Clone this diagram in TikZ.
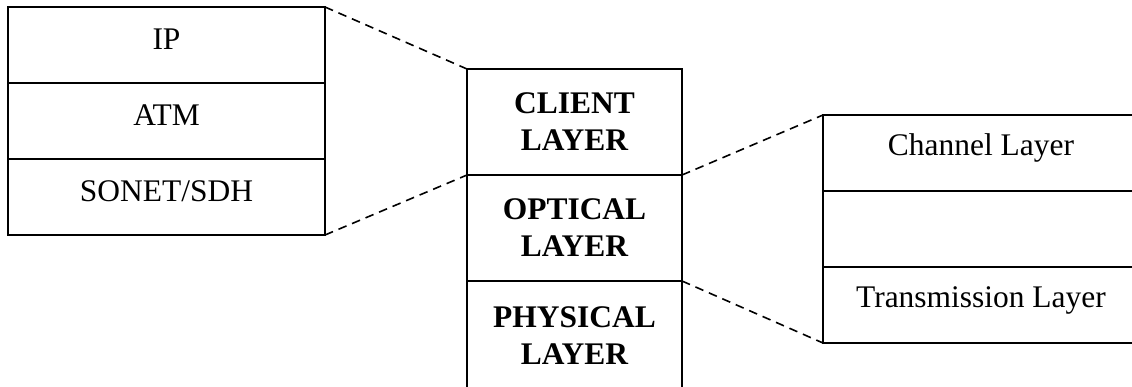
\documentclass[tikz,border=0pt]{standalone}
\usepackage{fontspec}
\setmainfont{Liberation Serif}
\usetikzlibrary{positioning}

\begin{document}
\begin{tikzpicture}[
  every node/.style={font=\fontsize{23.6pt}{27.75pt}\selectfont},
  stackrow/.style={draw,line width=1.5pt,inner sep=0pt,outer sep=0pt,
    minimum width=237.75pt,minimum height=57pt,
    text height=16pt,text depth=10pt},
  opticrow/.style={draw,line width=1.5pt,inner sep=0pt,outer sep=0pt,
    minimum width=161.25pt,minimum height=79.5pt,
    align=center,font=\fontsize{23.6pt}{27.75pt}\selectfont\bfseries},
  linkline/.style={dashed,dash pattern=on 6.5pt off 4.5pt,line width=1.2pt}
  ]

  \clip (0, 0) rectangle (849pt, -289.5pt);

  \node[stackrow] (ip) at (124.875pt, -33.75pt) {IP};
  \node[stackrow,below=0pt of ip] (atm) {ATM};
  \node[stackrow,below=0pt of atm] (sonet) {SONET/SDH};

  \node[opticrow] (client) at (430.875pt, -91.5pt) {CLIENT\\LAYER};
  \node[opticrow,below=0pt of client] (optical) {OPTICAL\\LAYER};
  \node[opticrow,minimum height=81.5pt,below=0pt of optical]
  (physical) {PHYSICAL\\LAYER};

  \node[stackrow,minimum width=237pt,text depth=12pt]
  (channel) at (735.75pt, -114.75pt) {Channel Layer};
  \node[stackrow,minimum width=237pt,below=0pt of channel] (spare) {};
  \node[stackrow,minimum width=237pt,text depth=12pt,below=0pt of spare]
  (trans) {Transmission Layer};

  \draw[linkline] (ip.north east) -- (client.north west);
  \draw[linkline] (sonet.south east) -- (client.south west);
  \draw[linkline] (client.south east) -- (channel.north west);
  \draw[linkline] (physical.north east) -- (trans.south west);
\end{tikzpicture}
\end{document}
